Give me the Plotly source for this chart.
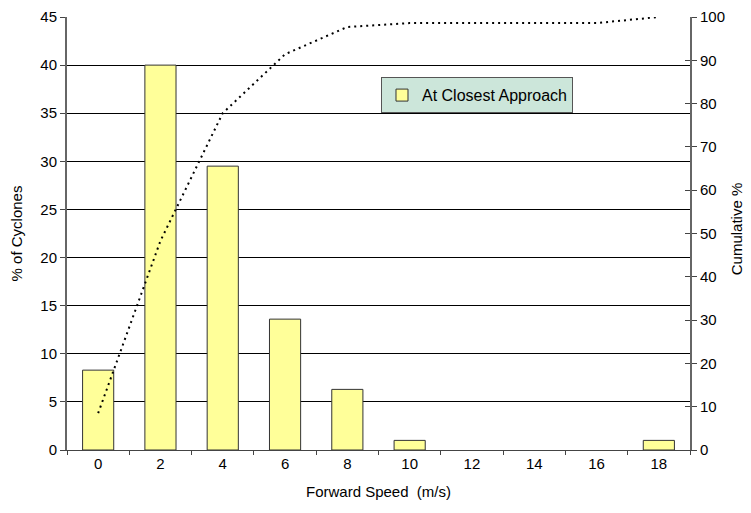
import plotly.graph_objects as go

speeds = ["0", "2", "4", "6", "8", "10", "12", "14", "16", "18"]
pct_cyclones = [8.3, 40.0, 29.5, 13.6, 6.3, 1.0, 0.0, 0.0, 0.0, 1.0]
cumulative = [8.5, 48.3, 77.8, 91.4, 97.7, 98.6, 98.6, 98.6, 98.6, 100.0]
left_ticks = [0, 5, 10, 15, 20, 25, 30, 35, 40, 45]
right_ticks = [0, 10, 20, 30, 40, 50, 60, 70, 80, 90, 100]

FONT = "Liberation Sans, Arial, sans-serif"
TICKFONT = dict(family=FONT, size=15, color="black")

# empty categories draw no bar at all in the reference
bar_values = [v if v > 0 else None for v in pct_cyclones]

fig = go.Figure()
fig.add_trace(go.Bar(
    x=speeds, y=bar_values, name="At Closest Approach",
    marker=dict(color="#FFFF99", line=dict(color="#333333", width=1)),
    width=0.5, yaxis="y",
))
fig.add_trace(go.Scatter(
    x=speeds, y=cumulative, mode="lines", showlegend=False,
    line=dict(color="black", width=2, dash="2px,4px"), yaxis="y2",
))
# invisible helper trace so the inner half of the right-hand cross ticks is drawn
fig.add_trace(go.Scatter(
    x=speeds, y=cumulative, mode="lines", showlegend=False, hoverinfo="skip",
    line=dict(color="rgba(0,0,0,0)", width=0), yaxis="y3",
))

fig.update_layout(
    width=743, height=505,
    margin=dict(l=59, r=61, t=9, b=63),
    paper_bgcolor="white", plot_bgcolor="white",
    font=dict(family=FONT, size=15, color="black"),
    showlegend=True,
    legend=dict(
        x=0.504, y=0.861, xanchor="left", yanchor="top",
        bgcolor="#CCE6DA", bordercolor="#555555", borderwidth=1,
        font=dict(size=16, family=FONT),
        itemwidth=30,
    ),
    xaxis=dict(
        type="category", range=[-0.5, 9.5], automargin=False,
        tickson="boundaries", ticks="outside", ticklen=4, tickcolor="#444",
        tickfont=TICKFONT,
        showline=True, linecolor="#444", linewidth=1,
        showgrid=False,
        title=dict(text="Forward Speed\u00a0\u00a0(m/s)", font=dict(size=15)),
    ),
    yaxis=dict(
        range=[0, 45], tickvals=left_ticks, automargin=False,
        ticks="outside", ticklen=5, tickcolor="#444",
        tickfont=TICKFONT,
        showline=True, linecolor="#666", linewidth=2,
        showgrid=True, gridcolor="black", gridwidth=1,
        zeroline=False,
        title=dict(text="% of Cyclones", font=dict(size=15)),
    ),
    yaxis2=dict(
        range=[0, 100], tickvals=right_ticks, automargin=False,
        overlaying="y", side="right",
        ticks="outside", ticklen=5, tickcolor="#444",
        tickfont=TICKFONT,
        showline=True, linecolor="#666", linewidth=2,
        showgrid=False, zeroline=False,
    ),
    yaxis3=dict(
        range=[0, 100], tickvals=right_ticks, automargin=False,
        overlaying="y", side="right",
        ticks="inside", ticklen=5, tickcolor="#444",
        showticklabels=False, showline=False,
        showgrid=False, zeroline=False,
    ),
    annotations=[dict(
        text="Cumulative %", textangle=-90, showarrow=False,
        xref="paper", yref="paper", x=1.074, y=0.51,
        xanchor="center", yanchor="middle",
        font=dict(family=FONT, size=15, color="black"),
    )],
)

fig.write_html("out.html")
